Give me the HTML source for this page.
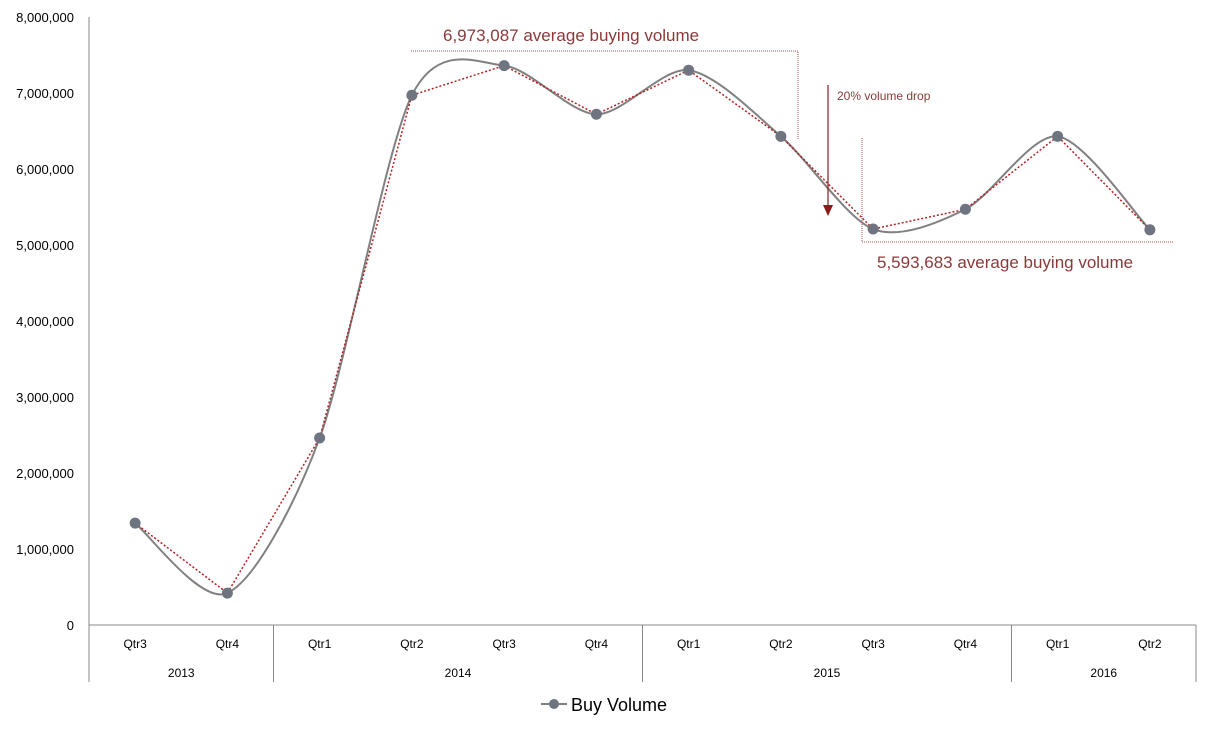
<!DOCTYPE html>
<html><head><meta charset="utf-8"><style>
body{margin:0;background:#fff;}
svg{display:block;font-family:"Liberation Sans",sans-serif;}
</style></head><body>
<svg id="chart" width="1211" height="732">
<g id="yaxis"></g>
<g id="xaxis"></g>
<g id="series"></g>
<g>
<polyline points="411,51 798,51 798,140" fill="none" stroke="#a05050" stroke-width="1" stroke-dasharray="1,1"/>
<text x="443" y="41" font-size="17" fill="#8b3a3a">6,973,087 average buying volume</text>
<line x1="828" y1="85" x2="828" y2="212" stroke="#8b1a1a" stroke-width="1.2"/>
<polygon points="823,205 828,216 833,205" fill="#8b1a1a"/>
<text x="837" y="100" font-size="12" fill="#8b3a3a">20% volume drop</text>
<polyline points="862,138 862,242 1173,242" fill="none" stroke="#a05050" stroke-width="1" stroke-dasharray="1,1"/>
<text x="877" y="268" font-size="17" fill="#8b3a3a">5,593,683 average buying volume</text>
</g>
<g>
<line x1="541" y1="704" x2="567" y2="704" stroke="#808080" stroke-width="2"/>
<circle cx="554" cy="704" r="5" fill="#6e7480"/>
<text x="571" y="711" font-size="18" fill="#000">Buy Volume</text>
</g>
</svg>
<script>
const quarters=["Qtr3","Qtr4","Qtr1","Qtr2","Qtr3","Qtr4","Qtr1","Qtr2","Qtr3","Qtr4","Qtr1","Qtr2"];
const years=["2013","2014","2015","2016"];
const yearCounts=[2,4,4,2];
const values=[1340000,420000,2460000,6970000,7360000,6720000,7300000,6430000,5210000,5470000,6430000,5200000];
const yTicks=[0,1000000,2000000,3000000,4000000,5000000,6000000,7000000,8000000];
const NS="http://www.w3.org/2000/svg";
const X0=89,X1=1196,Y0=625,Y1=17;
const bw=(X1-X0)/quarters.length;
const xs=i=>X0+bw*(i+0.5);
const ys=v=>Y0-(v/8000000)*(Y0-Y1);
function mk(tag,attrs,parent){const e=document.createElementNS(NS,tag);for(const k in attrs)e.setAttribute(k,attrs[k]);parent.appendChild(e);return e;}
const ya=document.getElementById('yaxis'),xa=document.getElementById('xaxis'),sg=document.getElementById('series');
mk('line',{x1:X0,y1:Y1,x2:X0,y2:Y0,stroke:'#888'},ya);
yTicks.forEach(t=>{const e=mk('text',{x:74,y:ys(t)+5,'text-anchor':'end','font-size':13,fill:'#000'},ya);e.textContent=t.toLocaleString('en-US');

});
mk('line',{x1:X0,y1:Y0,x2:X1,y2:Y0,stroke:'#888'},xa);
quarters.forEach((q,i)=>{const e=mk('text',{x:xs(i),y:648,'text-anchor':'middle','font-size':12,fill:'#000'},xa);e.textContent=q;

});
let c=0;mk('line',{x1:X0,y1:Y0,x2:X0,y2:682,stroke:'#888'},xa);
years.forEach((y,j)=>{const s=c;c+=yearCounts[j];const xe=X0+bw*c;
mk('line',{x1:xe,y1:Y0,x2:xe,y2:682,stroke:'#888'},xa);
const e=mk('text',{x:(X0+bw*s+xe)/2,y:677,'text-anchor':'middle','font-size':12,fill:'#000'},xa);e.textContent=y;

});
const P=values.map((v,i)=>[xs(i),ys(v)]);
const T=7;
let d=`M${P[0][0]},${P[0][1]}`;
for(let i=0;i<P.length-1;i++){const p0=P[Math.max(i-1,0)],p1=P[i],p2=P[i+1],p3=P[Math.min(i+2,P.length-1)];
d+=` C${p1[0]+(p2[0]-p0[0])/T},${p1[1]+(p2[1]-p0[1])/T} ${p2[0]-(p3[0]-p1[0])/T},${p2[1]-(p3[1]-p1[1])/T} ${p2[0]},${p2[1]}`;}
const sm=mk('path',{d:d,fill:'none',stroke:'#808080','stroke-width':2},sg);


const tl=mk('polyline',{points:P.map(p=>p.join(',')).join(' '),fill:'none',stroke:'#b22222','stroke-width':1.5,'stroke-dasharray':'2,2'},sg);


P.forEach(p=>{const e=mk('circle',{cx:p[0],cy:p[1],r:5.5,fill:'#6e7480'},sg);

});
</script>
</body></html>
